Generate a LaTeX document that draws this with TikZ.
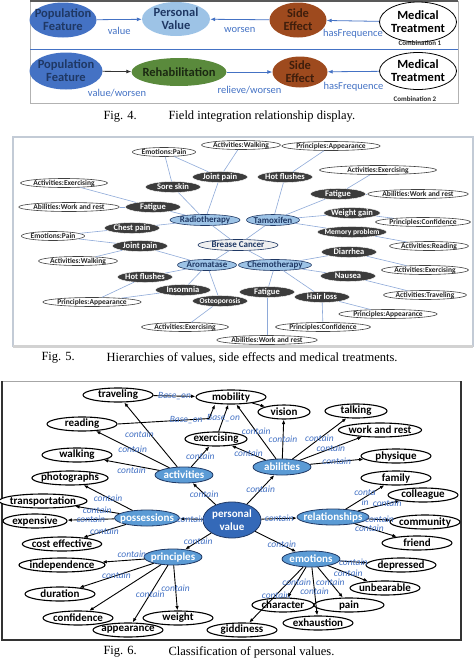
\documentclass[tikz,border=0pt]{standalone}
\usepackage{fontspec}
\setmainfont{Carlito}
\newfontfamily\capfont{Liberation Serif}
\usetikzlibrary{shapes.geometric,arrows.meta}

\definecolor{featblue}{HTML}{4472C4}
\definecolor{valblue}{HTML}{9DC3E6}
\definecolor{fxbrown}{HTML}{9E4A1E}
\definecolor{rehabgreen}{HTML}{5A8A3C}
\definecolor{navytext}{HTML}{1F3864}
\definecolor{relblue}{HTML}{4472C4}
\definecolor{fxgrey}{HTML}{3C3C3C}
\definecolor{linkblue}{HTML}{8EA9D8}
\definecolor{catblue}{HTML}{5B9BD5}
\definecolor{pvblue}{HTML}{3469B8}
\definecolor{framegrey}{HTML}{C3CBD6}

\tikzset{
  fournode/.style={ellipse, align=center, inner xsep=-6pt, inner ysep=-1pt,
    font=\bfseries\fontsize{12.5}{13}\selectfont, text=navytext},
  fourlbl/.style={text=relblue, font=\fontsize{10.5}{11}\selectfont},
  fourarr/.style={draw=relblue, -{Latex[length=5pt,width=4pt]}, line width=.8pt},
  combo/.style={font=\bfseries\fontsize{7}{7}\selectfont, text=black!85},
  fxnode/.style={ellipse, fill=fxgrey, draw=white, text=white, inner xsep=-1pt, inner ysep=0pt,
    minimum width=55pt, minimum height=11pt, font=\bfseries\fontsize{8.5}{8.5}\selectfont},
  valnode/.style={ellipse, fill=white, draw=black!75, line width=.6pt, text=black!85,
    inner xsep=0pt, inner ysep=-.3pt, minimum height=9pt, font=\bfseries\fontsize{7.5}{7.5}\selectfont},
  treatnode/.style={ellipse, fill=valblue, draw=navytext, line width=.6pt, text=navytext,
    inner xsep=-2pt, inner ysep=0pt, minimum height=11pt, font=\bfseries\fontsize{9}{9}\selectfont},
  linkline/.style={draw=linkblue, line width=.6pt},
  leafnode/.style={ellipse, draw=black, line width=1.1pt, fill=white, inner xsep=-2pt, inner ysep=0pt,
    minimum width=70pt, minimum height=14pt, font=\bfseries\fontsize{11}{11}\selectfont},
  catnode/.style={ellipse, draw=navytext, line width=.8pt, fill=catblue, text=white, align=center,
    inner xsep=-4pt, inner ysep=0pt, minimum width=58pt, minimum height=16pt,
    font=\bfseries\fontsize{11}{11}\selectfont},
  contarr/.style={draw, -{Latex[length=4.5pt,width=3.5pt]}, line width=.9pt},
  contlbl/.style={text=relblue, inner sep=.5pt, align=center, font=\itshape\fontsize{9.5}{10}\selectfont},
  figcap/.style={anchor=west, font=\capfont\fontsize{12.5}{13}\selectfont}
}

\begin{document}
\begin{tikzpicture}[x=1pt,y=-1pt]
  \useasboundingbox (0,0) rectangle (474,659);

  % Fig. 4
  \draw[gray!60, line width=1pt] (30,1) rectangle (458,103);
  \draw[gray!70!black, line width=2pt] (30,1) -- (458,1);
  \draw[relblue, line width=.8pt] (30,49) -- (458,49);

  \node[fournode, fill=featblue, minimum width=67pt, minimum height=35pt] (pf1) at (63,20) {Population\\Feature};
  \node[fournode, fill=valblue, minimum width=68pt, minimum height=34pt] (pv1) at (176,19) {Personal\\Value};
  \node[fournode, fill=fxbrown, text=black!60!fxbrown, minimum width=57pt, minimum height=35pt] (se1) at (298,20) {Side\\Effect};
  \node[fournode, fill=white, draw=black, line width=.8pt, text=black, minimum width=77pt, minimum height=40pt] (mt1) at (418,22) {Medical\\Treatment};
  \node[combo] (cb1) at (420,43) {Combination 1};

  \node[fournode, fill=featblue, minimum width=73pt, minimum height=37pt] (pf2) at (66,71) {Population\\Feature};
  \node[fournode, fill=rehabgreen, text=black!70!rehabgreen, minimum width=95pt, minimum height=28pt] (rh) at (179,72) {Rehabilitation};
  \node[fournode, fill=fxbrown, text=black!60!fxbrown, minimum width=55pt, minimum height=31pt] (se2) at (300,72) {Side\\Effect};
  \node[fournode, fill=white, draw=black, line width=.8pt, text=black, minimum width=77pt, minimum height=37pt] (mt2) at (418,71) {Medical\\Treatment};
  \node[combo] (cb2) at (415,99) {Combination 2};

  \path (pf1) edge[fourarr] node[fourlbl, below=4pt] {value} (pv1);
  \path (se1) edge[fourarr] node[fourlbl, below=4pt] {worsen} (pv1);
  \path (mt1) edge[fourarr] node[fourlbl, below=5pt] {hasFrequence} (se1);
  \path (pf2) edge[fourarr, draw=black!80] node[fourlbl, below=14pt] {value/worsen} (rh);
  \path (rh) edge[fourarr] node[fourlbl, below=10pt] {relieve/worsen} (se2);
  \path (mt2) edge[fourarr] node[fourlbl, below=7pt] {hasFrequence} (se2);

  \node[figcap] (cap4a) at (100,117) {Fig. 4.};
  \node[figcap] (cap4b) at (165,117) {Field integration relationship display.};

  % Fig. 5
  \draw[framegrey, line width=1.2pt] (13,137) rectangle (473,346);
  \draw[gray!35, line width=3pt] (13,346) -- (473,346);

  \begin{scope}[every node/.style=treatnode]
    \node[fill=gray!12, minimum width=80pt] (bc) at (238,245) {Brease Cancer};
    \node[minimum width=70pt] (rad) at (205,220) {Radiotherapy};
    \node[minimum width=53pt] (tam) at (273,220) {Tamoxifen};
    \node[minimum width=59pt] (aro) at (207,265) {Aromatase};
    \node[minimum width=73pt] (che) at (275,265) {Chemotherapy};
  \end{scope}

  \begin{scope}[every node/.style=fxnode]
    \node (sore) at (173,187) {Sore skin};
    \node (jp1) at (220,177) {Joint pain};
    \node (hf1) at (285,177) {Hot flushes};
    \node (fat1) at (338,194) {Fatigue};
    \node (fat2) at (153,207) {Fatigue};
    \node (wg) at (352,213) {Weight gain};
    \node (cp) at (132,228) {Chest pain};
    \node[inner xsep=-3pt, font=\bfseries\fontsize{7.5}{7.5}\selectfont] (mem) at (352,232) {Memory problem};
    \node (jp2) at (140,246) {Joint pain};
    \node (dia) at (349,252) {Diarrhea};
    \node (nau) at (348,276) {Nausea};
    \node (hf2) at (145,277) {Hot flushes};
    \node (ins) at (183,290) {Insomnia};
    \node (fat3) at (267,292) {Fatigue};
    \node (hl) at (322,297) {Hair loss};
    \node[inner xsep=-3pt, font=\bfseries\fontsize{7.5}{7.5}\selectfont] (ost) at (220,301) {Osteoporosis};
  \end{scope}

  \begin{scope}[every node/.style=valnode]
    \node (ep1) at (164,152) {Emotions:Pain};
    \node (aw1) at (241,145) {Activities:Walking};
    \node (pa1) at (331,146) {Principles:Appearance};
    \node[minimum width=117pt] (ae1) at (378,170) {Activities:Exercising};
    \node (ae2) at (64,183) {Activities:Exercising};
    \node (wr1) at (418,194) {Abilities:Work and rest};
    \node (wr2) at (69,207) {Abilities:Work and rest};
    \node (pc1) at (423,222) {Principles:Confidence};
    \node (ep2) at (53,236) {Emotions:Pain};
    \node (ar) at (429,246) {Activities:Reading};
    \node (aw2) at (78,261) {Activities:Walking};
    \node (ae3) at (425,270) {Activities:Exercising};
    \node (atr) at (425,295) {Activities:Traveling};
    \node (pa2) at (92,302) {Principles:Appearance};
    \node (pa3) at (388,314) {Principles:Appearance};
    \node (ae4) at (185,327) {Activities:Exercising};
    \node (pc2) at (323,327) {Principles:Confidence};
    \node (wr3) at (267,340) {Abilities:Work and rest};
  \end{scope}

  \begin{scope}[every edge/.style=linkline]
    \path (bc) edge (rad);
    \path (bc) edge (tam);
    \path (bc) edge (aro);
    \path (bc) edge (che);
    \path (rad) edge (sore);
    \path (rad) edge (jp1);
    \path (rad) edge (fat2);
    \path (rad) edge (cp);
    \path (tam) edge (hf1);
    \path (tam) edge (fat1);
    \path (tam) edge (wg);
    \path (tam) edge (mem);
    \path (aro) edge (jp2);
    \path (aro) edge (hf2);
    \path (aro) edge (ins);
    \path (aro) edge (ost);
    \path (che) edge (dia);
    \path (che) edge (nau);
    \path (che) edge (fat3);
    \path (che) edge (hl);
    \path (ep1) edge (sore);
    \path (ep1) edge (jp1);
    \path (aw1) edge (jp1);
    \path (pa1) edge (hf1);
    \path (fat1) edge (ae1);
    \path (fat1) edge (wr1);
    \path (wg) edge (pc1);
    \path (mem) edge (ar);
    \path (fat2) edge (ae2);
    \path (fat2) edge (wr2);
    \path (ep2) edge (cp);
    \path (ep2) edge (jp2);
    \path (jp2) edge (aw2);
    \path (pa2) edge (hf2);
    \path (pa2) edge (ins);
    \path (ost) edge (ae4);
    \path (dia) edge (ae3);
    \path (nau) edge (atr);
    \path (hl) edge (pa3);
    \path (hl) edge (pc2);
    \path (fat3) edge (wr3);
  \end{scope}

  \node[figcap] (cap5a) at (38,358) {Fig. 5.};
  \node[figcap] (cap5b) at (103,358) {Hierarchies of values, side effects and medical treatments.};

  % Fig. 6
  \draw[gray!70, line width=1pt] (2,381) -- (461,381);
  \draw[black!80, line width=1.5pt] (2,381) -- (2,640) -- (461,640) -- (461,381);

  \begin{scope}[every node/.style=leafnode]
    \node (trav) at (118,395) {traveling};
    \node (mob) at (231,397) {mobility};
    \node[minimum width=52pt] (vis) at (284,412) {vision};
    \node[minimum width=62pt] (talk) at (356,411) {talking};
    \node (war) at (380,430) {work and rest};
    \node (read) at (82,424) {reading};
    \node[minimum width=62pt] (exer) at (216,439) {exercising};
    \node (walk) at (77,455) {walking};
    \node (phys) at (396,456) {physique};
    \node (photo) at (70,478) {photographs};
    \node (fam) at (396,478) {family};
    \node (coll) at (423,495) {colleague};
    \node (trans) at (43,501) {transportation};
    \node[minimum width=64pt] (exp) at (35,521) {expensive};
    \node (comm) at (425,522) {community};
    \node (fri) at (417,543) {friend};
    \node (cost) at (62,544) {cost effective};
    \node (indep) at (62,565) {independence};
    \node (dep) at (401,565) {depressed};
    \node (unb) at (385,588) {unbearable};
    \node (dur) at (60,594) {duration};
    \node[minimum width=62pt] (char) at (283,605) {character};
    \node (pain) at (349,605) {pain};
    \node (conf) at (78,618) {confidence};
    \node (wei) at (178,618) {weight};
    \node (exh) at (318,623) {exhaustion};
    \node (app) at (128,630) {appearance};
    \node (gidd) at (242,630) {giddiness};
  \end{scope}

  \begin{scope}[every node/.style=catnode]
    \node (act) at (184,475) {activities};
    \node (abi) at (282,467) {abilities};
    \node (pos) at (147,518) {possessions};
    \node (rel) at (333,517) {relationships};
    \node (pri) at (173,557) {principles};
    \node (emo) at (311,559) {emotions};
    \node[fill=pvblue, minimum width=58pt, minimum height=36pt, inner sep=-1pt,
      font=\bfseries\fontsize{11}{13}\selectfont] (pv) at (232,520) {personal\\value};
  \end{scope}

  \begin{scope}[every node/.style=contlbl, every edge/.style=contarr]
    \path (trav) edge node {Base\_on} (mob);
    \path (exer) edge node {Base\_on} (mob);
    \path (mob) edge (vis);
    \draw[contarr] (read.east) -- ([xshift=-22pt,yshift=-14pt]mob.south) node[pos=.75] {Base\_on} -- ([xshift=-16pt]mob.south);

    \path (pv) edge node {contain} (act);
    \path (pv) edge node {contain} (abi);
    \path (pv) edge node {contain} (pos);
    \path (pv) edge node {contain} (rel);
    \path (pv) edge node {contain} (pri);
    \path (pv) edge node[pos=.65] {contain} (emo);

    \path (act) edge node[left=-4pt] {contain} (trav);
    \path (act) edge node {contain} (read);
    \path (act) edge node[below=1pt] {contain} (walk);
    \path (act) edge node {contain} (exer);

    \path (abi) edge node {contain} (mob);
    \path (abi) edge node {contain} (vis);
    \path (abi) edge node {contain} (talk);
    \path (abi) edge node {contain} (war);
    \path (abi) edge node {contain} (phys);
    \path (abi) edge node {contain} (exer);

    \path (pos) edge node {contain} (photo);
    \path (pos) edge node {contain} (trans);
    \path (pos) edge node {contain} (exp);
    \path (pos) edge node {contain} (cost);

    \path (rel) edge node {conta\\in} (fam);
    \path (rel) edge node[pos=.7] {contain} (coll);
    \path (rel) edge node {contain} (comm);
    \path (rel) edge node[pos=.35] {contain} (fri);

    \path (pri) edge node[pos=.3, above=1pt] {contain} (indep);
    \path (pri) edge node {contain} (dur);
    \path (pri) edge (conf);
    \path (pri) edge node {contain} (app);
    \path (pri) edge node {contain} (wei);

    \path (emo) edge node {contain} (dep);
    \path (emo) edge node {contain} (unb);
    \path (emo) edge node {contain} (gidd);
    \path (emo) edge node {contain} (char);
    \path (emo) edge node {contain} (exh);
    \path (emo) edge node {contain} (pain);
  \end{scope}

  \node[figcap] (cap6a) at (100,652) {Fig. 6.};
  \node[figcap] (cap6b) at (165,652) {Classification of personal values.};
\end{tikzpicture}
\end{document}
